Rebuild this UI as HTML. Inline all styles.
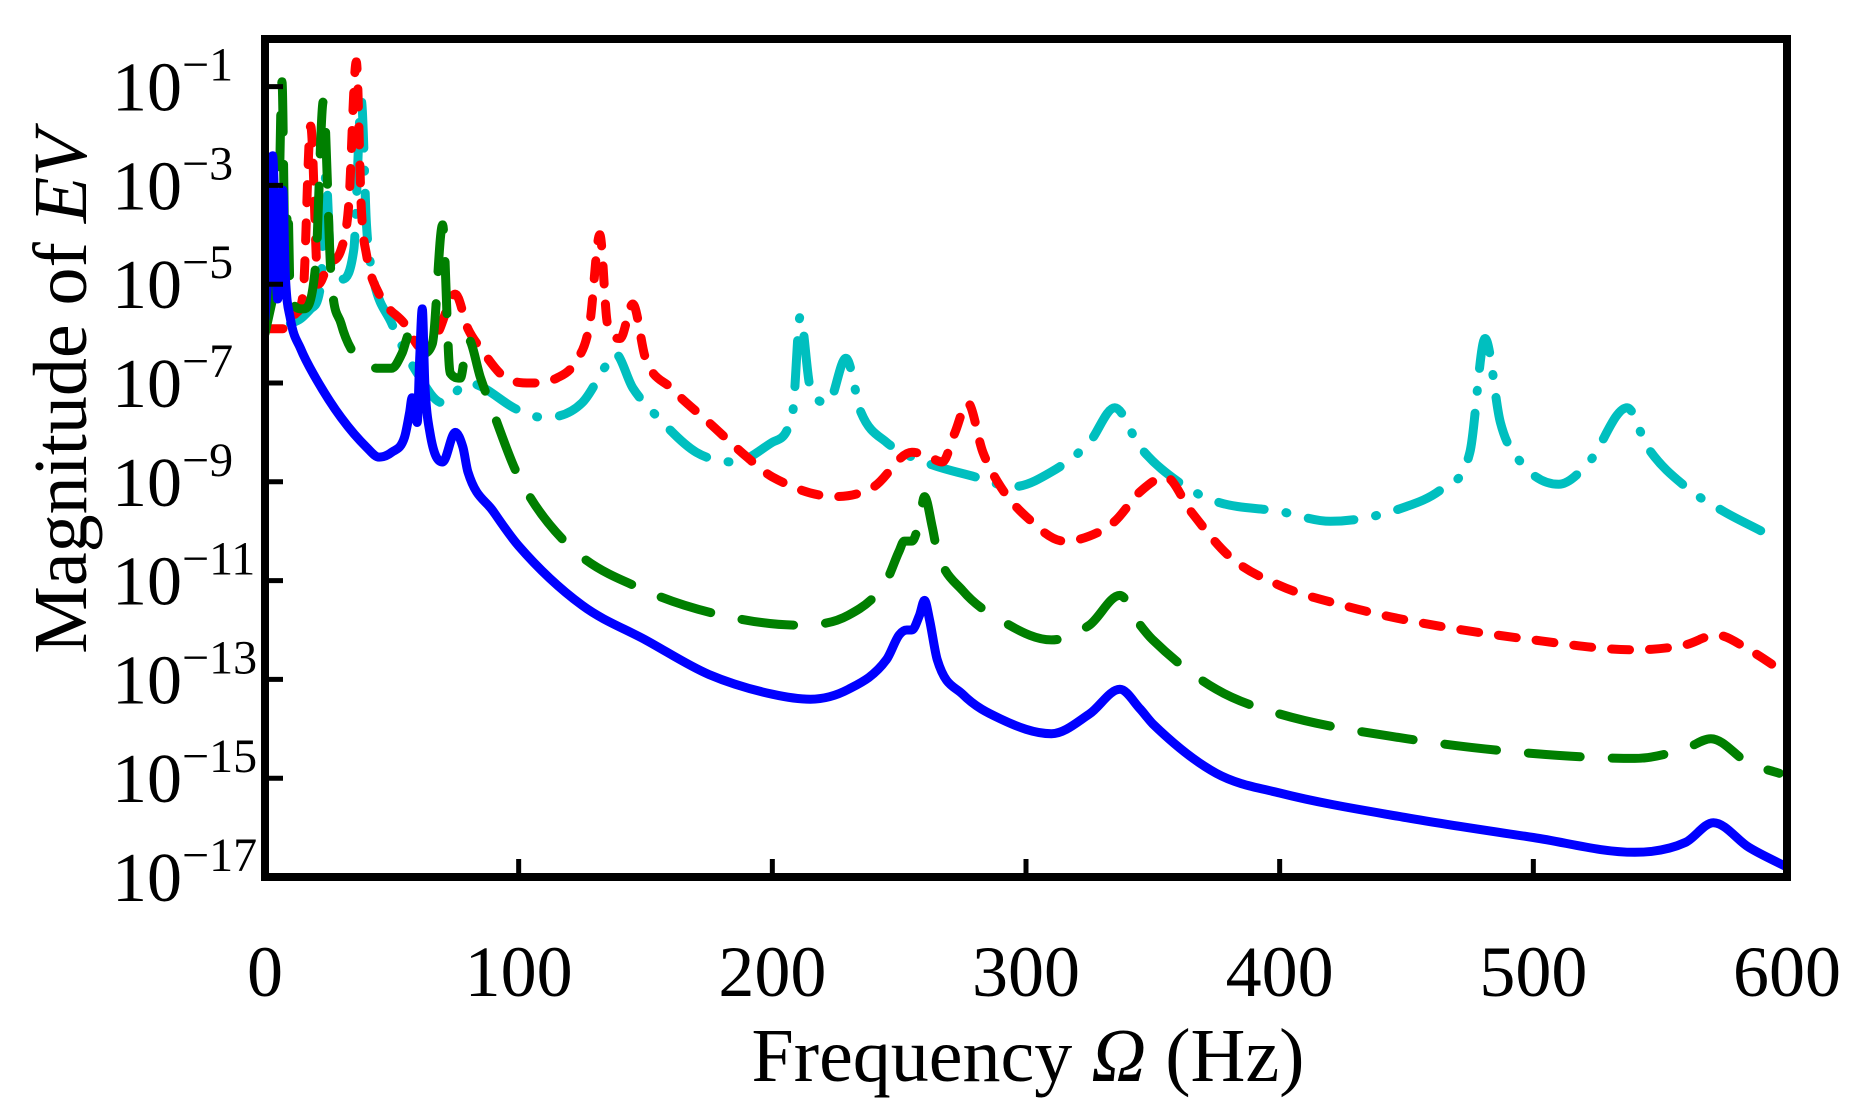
<!DOCTYPE html>
<html><head><meta charset="utf-8"><style>
html,body{margin:0;padding:0;background:#fff;}
svg{display:block;font-family:"Liberation Serif",serif;}
</style></head><body>
<svg id="chart" width="1864" height="1108" viewBox="0 0 1864 1108" xmlns="http://www.w3.org/2000/svg">
<g id="series"></g>
<g id="axes"></g>
</svg>
<script>
const xTicks = [0,100,200,300,400,500,600];
const yTickExps = [-1,-3,-5,-7,-9,-11,-13,-15,-17];

const blueHz  = [0,1.5,3,5,6,7,8,10,14,20,30,40,45,50,55,57,58,60,61,62,63,65,70,75,78,80,90,100,125,150,175,200,215,230,245,250,253,255,258,260,262,265,275,290,310,325,337,345,350,375,400,450,500,540,560,571,585,600];
const blueLog = [-5.7,-4.5,-2.4,-5.3,-4.5,-3.1,-4.8,-5.7,-6.3,-6.9,-7.7,-8.3,-8.5,-8.4,-8.1,-7.6,-7.3,-7.8,-6.5,-5.5,-7.0,-8.0,-8.6,-8.0,-8.3,-8.8,-9.6,-10.3,-11.5,-12.2,-12.9,-13.3,-13.4,-13.2,-12.6,-12.1,-12.0,-12.0,-11.7,-11.4,-11.8,-12.6,-13.3,-13.8,-14.1,-13.7,-13.2,-13.6,-13.9,-14.9,-15.3,-15.8,-16.2,-16.5,-16.3,-15.9,-16.4,-16.8];

const greenHz  = [0,3,5,6.7,8,9,10,15,20,23,26,30,35,40,44,50,54,57,60,62,66,70,73,77,80,85,90,100,120,150,180,210,230,245,250,252,255,258,260,263,265,275,290,310,325,337,345,350,375,400,450,500,540,560,570,585,597];
const greenLog = [-6.0,-5.3,-4.6,-0.9,-4.5,-3.4,-5.3,-5.5,-4.6,-1.3,-4.8,-5.8,-6.4,-6.6,-6.7,-6.7,-6.4,-6.0,-6.3,-6.4,-6.2,-3.8,-6.8,-6.9,-6.1,-6.9,-7.6,-8.9,-10.3,-11.2,-11.7,-11.9,-11.7,-11.0,-10.4,-10.2,-10.2,-9.8,-9.3,-9.9,-10.4,-11.2,-11.8,-12.2,-11.9,-11.3,-11.9,-12.2,-13.2,-13.7,-14.2,-14.5,-14.6,-14.4,-14.2,-14.7,-14.9];

const redHz  = [0,8,12,15,18,21,25,30,33,36,38,40,45,55,62,68,75,80,85,95,105,115,122,128,132,135,140,145,150,160,175,190,200,225,240,255,262,267,272,277,283,290,300,315,325,335,345,355,365,380,400,425,450,500,540,560,572,585,600];
const redLog = [-5.9,-5.9,-5.6,-5.2,-1.8,-5.0,-4.6,-4.3,-3.4,-0.5,-3.5,-4.4,-5.2,-5.8,-6.3,-6.0,-5.2,-5.9,-6.3,-6.9,-7.0,-6.9,-6.6,-5.8,-4.0,-5.8,-6.1,-5.4,-6.5,-7.1,-7.8,-8.5,-8.9,-9.3,-9.1,-8.4,-8.5,-8.6,-8.0,-7.4,-8.4,-9.1,-9.7,-10.2,-10.1,-9.8,-9.2,-8.9,-9.6,-10.5,-11.1,-11.5,-11.8,-12.2,-12.4,-12.3,-12.1,-12.4,-12.9];

const cyanHz  = [10,14,18,22,24,26,30,35,38,40,42,50,60,70,80,100,110,125,135,138,145,155,170,185,200,208,211,215,222,229,235,245,260,280,295,310,325,335,345,360,375,400,420,450,465,475,481,487,495,510,522,537,545,560,575,590];
const cyanLog = [-5.8,-5.7,-5.5,-5.0,-2.8,-4.6,-4.9,-4.3,-1.3,-3.8,-4.7,-5.8,-6.8,-7.4,-7.0,-7.55,-7.7,-7.4,-6.6,-6.4,-7.1,-7.7,-8.4,-8.6,-8.2,-7.6,-5.65,-7.1,-7.4,-6.5,-7.6,-8.2,-8.6,-8.9,-9.1,-8.8,-8.2,-7.5,-8.3,-9.0,-9.4,-9.6,-9.8,-9.5,-9.1,-8.4,-6.1,-7.8,-8.6,-9.05,-8.6,-7.5,-8.3,-9.1,-9.6,-10.0];

const X0=265, X1=1787, YTOP=39, YBOT=877, EMIN=-17, PXPER=49.4;
function xScale(f){return X0+(f-0)/(600-0)*(X1-X0);}
function yScale(e){return YBOT-(e-EMIN)*PXPER;}
const NS="http://www.w3.org/2000/svg";
const seriesG=document.getElementById('series');
const axesG=document.getElementById('axes');
const defs=document.createElementNS(NS,'clipPath');
defs.setAttribute('id','clip');
const cr=document.createElementNS(NS,'rect');
cr.setAttribute('x',X0);cr.setAttribute('y',YTOP);cr.setAttribute('width',X1-X0);cr.setAttribute('height',YBOT-YTOP);
defs.appendChild(cr);
document.getElementById('chart').appendChild(defs);
seriesG.setAttribute('clip-path','url(#clip)');

// monotone cubic path (Fritsch-Carlson)
function monoPath(xs,ys){
  const n=xs.length, d=[], m=[];
  for(let i=0;i<n-1;i++){d.push((ys[i+1]-ys[i])/(xs[i+1]-xs[i]));}
  m[0]=d[0]; m[n-1]=d[n-2];
  for(let i=1;i<n-1;i++){m[i]=(d[i-1]*d[i]<=0)?0:(d[i-1]+d[i])/2;}
  for(let i=0;i<n-1;i++){
    if(d[i]===0){m[i]=0;m[i+1]=0;continue;}
    const a=m[i]/d[i], b=m[i+1]/d[i], s=a*a+b*b;
    if(s>9){const t=3/Math.sqrt(s);m[i]=t*a*d[i];m[i+1]=t*b*d[i];}
  }
  let p='M'+xs[0].toFixed(1)+','+ys[0].toFixed(1);
  for(let i=0;i<n-1;i++){
    const h=(xs[i+1]-xs[i])/3;
    p+='C'+(xs[i]+h).toFixed(1)+','+(ys[i]+m[i]*h).toFixed(1)+' '+(xs[i+1]-h).toFixed(1)+','+(ys[i+1]-m[i+1]*h).toFixed(1)+' '+xs[i+1].toFixed(1)+','+ys[i+1].toFixed(1);
  }
  return p;
}

function drawLine(hz,lg,color,dash){
  const p=document.createElementNS(NS,'path');
  p.setAttribute('d',monoPath(hz.map(xScale),lg.map(yScale)));
  p.setAttribute('fill','none');
  p.setAttribute('stroke',color);
  p.setAttribute('stroke-width','9');
  p.setAttribute('stroke-linejoin','round');
  p.setAttribute('stroke-linecap','round');
  if(dash)p.setAttribute('stroke-dasharray',dash);
  
  seriesG.appendChild(p);
  return p;
}
let s1=drawLine(cyanHz,cyanLog,'#00bfbf','46 22 1 22');

let s2=drawLine(redHz,redLog,'#ff0000','18 20');

let s3=drawLine(greenHz,greenLog,'#007f00','52 32');

let s4=drawLine(blueHz,blueLog,'#0000ff',null);


const fr=document.createElementNS(NS,'rect');
fr.setAttribute('x',X0);fr.setAttribute('y',YTOP);fr.setAttribute('width',X1-X0);fr.setAttribute('height',YBOT-YTOP);
fr.setAttribute('fill','none');fr.setAttribute('stroke','#000');fr.setAttribute('stroke-width','8');


axesG.appendChild(fr);

xTicks.forEach(t=>{
  const x=xScale(t);
  const l=document.createElementNS(NS,'line');
  l.setAttribute('x1',x);l.setAttribute('x2',x);l.setAttribute('y1',YBOT);l.setAttribute('y2',YBOT-18);
  l.setAttribute('stroke','#000');l.setAttribute('stroke-width','5');
  
  
  axesG.appendChild(l);
  const tx=document.createElementNS(NS,'text');
  tx.setAttribute('x',x);tx.setAttribute('y',996);tx.setAttribute('text-anchor','middle');
  tx.setAttribute('font-size','72');
  tx.textContent=t;
  
  
  axesG.appendChild(tx);
});
yTickExps.forEach(e=>{
  const y=yScale(e);
  const l=document.createElementNS(NS,'line');
  l.setAttribute('x1',X0);l.setAttribute('x2',X0+18);l.setAttribute('y1',y);l.setAttribute('y2',y);
  l.setAttribute('stroke','#000');l.setAttribute('stroke-width','5');
  
  
  axesG.appendChild(l);
  const tx=document.createElementNS(NS,'text');
  tx.setAttribute('x',112);tx.setAttribute('y',y+24);tx.setAttribute('font-size','70');
  const a=document.createElementNS(NS,'tspan');a.textContent='10';
  const b=document.createElementNS(NS,'tspan');b.setAttribute('dy','-30');b.setAttribute('font-size','48');
  b.textContent='\u2212'+Math.abs(e);
  tx.appendChild(a);tx.appendChild(b);
  
  
  axesG.appendChild(tx);
});
</script>
<svg style="position:absolute;left:0;top:0" width="1864" height="1108">
<text x="1028" y="1081" text-anchor="middle" font-family="Liberation Serif, serif" font-size="76">Frequency <tspan font-style="italic">Ω</tspan> (Hz)</text>
<text transform="translate(86,392) rotate(-90)" text-anchor="middle" font-family="Liberation Serif, serif" font-size="76">Magnitude of <tspan font-style="italic">EV</tspan></text>
</svg>
</body></html>
